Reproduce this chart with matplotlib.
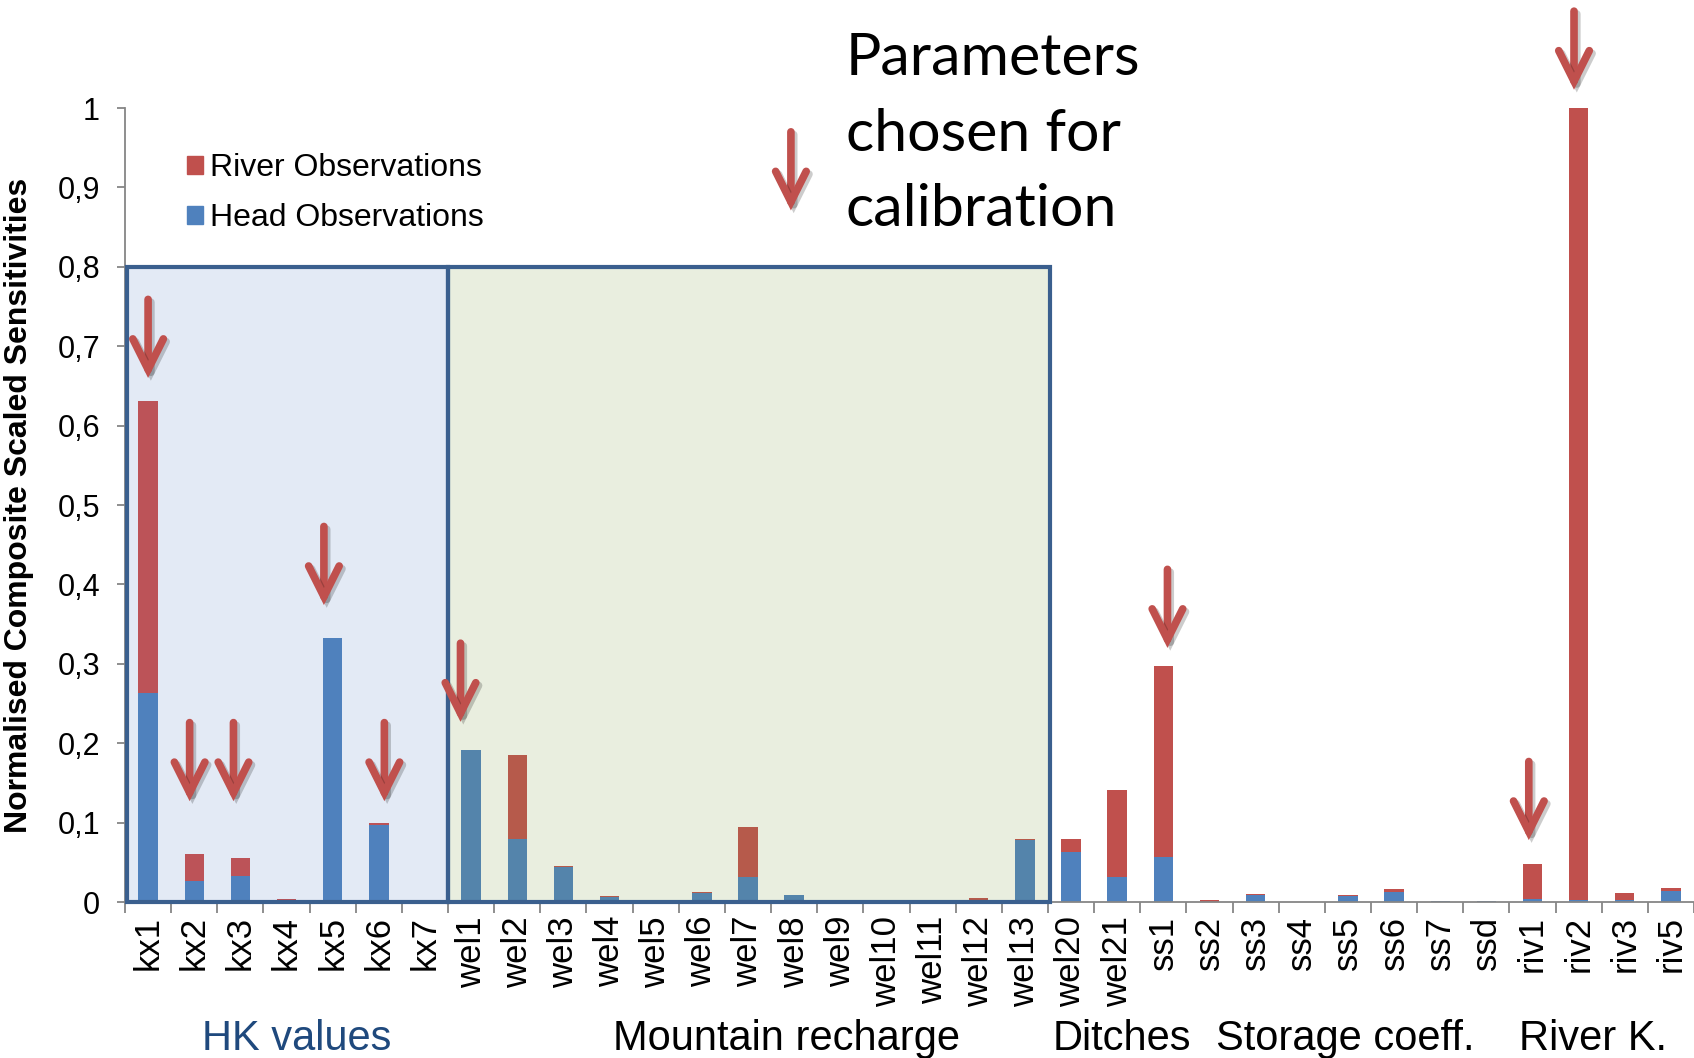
import numpy as np
import matplotlib.pyplot as plt
from matplotlib.patches import Rectangle, FancyArrowPatch, Patch
from matplotlib.transforms import blended_transform_factory
import matplotlib.patheffects as pe

plt.rcParams['font.family'] = ['Liberation Sans', 'DejaVu Sans']

params = ['kx1', 'kx2', 'kx3', 'kx4', 'kx5', 'kx6', 'kx7',
          'wel1', 'wel2', 'wel3', 'wel4', 'wel5', 'wel6', 'wel7', 'wel8', 'wel9',
          'wel10', 'wel11', 'wel12', 'wel13', 'wel20', 'wel21',
          'ss1', 'ss2', 'ss3', 'ss4', 'ss5', 'ss6', 'ss7', 'ssd',
          'riv1', 'riv2', 'riv3', 'riv5']
head = [0.263, 0.027, 0.033, 0.001, 0.332, 0.097, 0.001,
        0.191, 0.080, 0.044, 0.006, 0.001, 0.012, 0.031, 0.009, 0.000,
        0.001, 0.001, 0.002, 0.078, 0.063, 0.031,
        0.057, 0.000, 0.009, 0.000, 0.008, 0.013, 0.001, 0.001,
        0.004, 0.002, 0.002, 0.014]
river = [0.368, 0.034, 0.023, 0.003, 0.001, 0.003, 0.000,
         0.001, 0.105, 0.001, 0.001, 0.002, 0.001, 0.063, 0.000, 0.002,
         0.000, 0.000, 0.003, 0.002, 0.016, 0.110,
         0.240, 0.002, 0.001, 0.000, 0.001, 0.003, 0.000, 0.000,
         0.044, 0.998, 0.009, 0.004]

# parameters chosen for calibration: arrow tip height and small sideways shift
chosen = ['kx1', 'kx2', 'kx3', 'kx5', 'kx6', 'wel1', 'ss1', 'riv1', 'riv2']
arrow_tip = [0.66, 0.127, 0.127, 0.374, 0.127, 0.227, 0.32, 0.078, 1.023]
arrow_dx = [0.0, -0.1, -0.15, -0.19, 0.12, -0.23, 0.09, -0.08, -0.1]

groups = ['HK values', 'Mountain recharge', 'Ditches', 'Storage coeff.', 'River K.']
group_x = [3.21, 13.84, 21.1, 25.94, 31.31]
group_col = ['#1F497D', 'black', 'black', 'black', 'black']

red = '#C0504D'
blue = '#4F81BD'

n = len(params)
x = np.arange(n)
blue_cols = []
red_cols = []
for i in range(n):
    if 7 <= i <= 19:
        blue_cols.append('#5484AB')
        red_cols.append('#B65A4B')
    elif i <= 6:
        blue_cols.append('#4F81BD')
        red_cols.append('#BC5358')
    else:
        blue_cols.append(blue)
        red_cols.append(red)

fig = plt.figure(figsize=(16.94, 10.58), dpi=100)
ax = fig.add_axes([0.0738, 0.1474, 0.9262, 0.7505])

# shaded boxes behind the bars
ax.add_patch(Rectangle((-0.45, 0), 6.95, 0.8, fc='#E3EAF5', ec='none', zorder=0))
ax.add_patch(Rectangle((6.5, 0), 13.05, 0.8, fc='#E9EEDF', ec='none', zorder=0))

ax.bar(x, head, 0.42, color=blue_cols, zorder=2)
ax.bar(x, river, 0.42, bottom=head, color=red_cols, zorder=2)

ax.add_patch(Rectangle((-0.45, 0), 6.95, 0.8, fc='none', ec='#3A5F8E', lw=3, zorder=3, clip_on=False))
ax.add_patch(Rectangle((6.5, 0), 13.05, 0.8, fc='none', ec='#3A5F8E', lw=3, zorder=3, clip_on=False))

ax.set_xlim(-0.5, 33.39)
ax.set_ylim(0, 1)
for s in ['top', 'right']:
    ax.spines[s].set_visible(False)
for s in ['left', 'bottom']:
    ax.spines[s].set_color('#868686')
    ax.spines[s].set_linewidth(1.3)

yt = np.round(np.arange(0, 1.01, 0.1), 1)
ax.set_yticks(yt)
ax.set_yticklabels([('%g' % v).replace('.', ',') for v in yt], fontsize=22)
ax.tick_params(axis='y', length=6, color='#868686', width=1.3, pad=12)

ax.set_xticks(x)
ax.set_xticklabels(params, rotation=90, fontsize=25, va='top')
ax.set_xticks(np.arange(-0.5, n, 1), minor=True)
ax.tick_params(axis='x', which='major', length=0, pad=10)
ax.tick_params(axis='x', which='minor', length=8, color='#868686', width=1.3)

ax.set_ylabel('Normalised Composite Scaled Sensitivities', fontsize=23, fontweight='bold')
ax.yaxis.set_label_coords(-0.058, 0.5)

leg = ax.legend([Patch(color=red), Patch(color=blue)],
                ['River Observations', 'Head Observations'],
                loc='upper left', bbox_to_anchor=(0.0395, 0.943), frameon=False,
                fontsize=23, handlelength=0.5, handleheight=0.5,
                handletextpad=0.22, labelspacing=0.62, borderpad=0, borderaxespad=0)


def down_arrow(xp, tip):
    a = FancyArrowPatch((xp, tip + 0.099), (xp, tip),
                        arrowstyle='->,head_length=1.1,head_width=0.55',
                        mutation_scale=20, lw=5.5, color=red,
                        shrinkA=0, shrinkB=0, capstyle='round', joinstyle='miter',
                        zorder=5, clip_on=False)
    a.set_path_effects([pe.SimpleLineShadow(offset=(2, -2), alpha=0.2), pe.Normal()])
    ax.add_patch(a)


for p, t, d in zip(chosen, arrow_tip, arrow_dx):
    down_arrow(params.index(p) + d, t)

# legend arrow for "Parameters chosen for calibration"
down_arrow(13.93, 0.871)
for line, yy in zip(['Parameters', 'chosen for', 'calibration'], [0.945, 0.873, 0.802]):
    fig.text(0.4994, yy, line, fontsize=42.5, family=['Lato', 'DejaVu Sans'], va='center', ha='left')

tr = blended_transform_factory(ax.transData, fig.transFigure)
for g, gx, gc in zip(groups, group_x, group_col):
    ax.text(gx, 0.008, g, transform=tr, fontsize=30, color=gc, ha='center', va='baseline')

fig.savefig('out.png', dpi=100)
